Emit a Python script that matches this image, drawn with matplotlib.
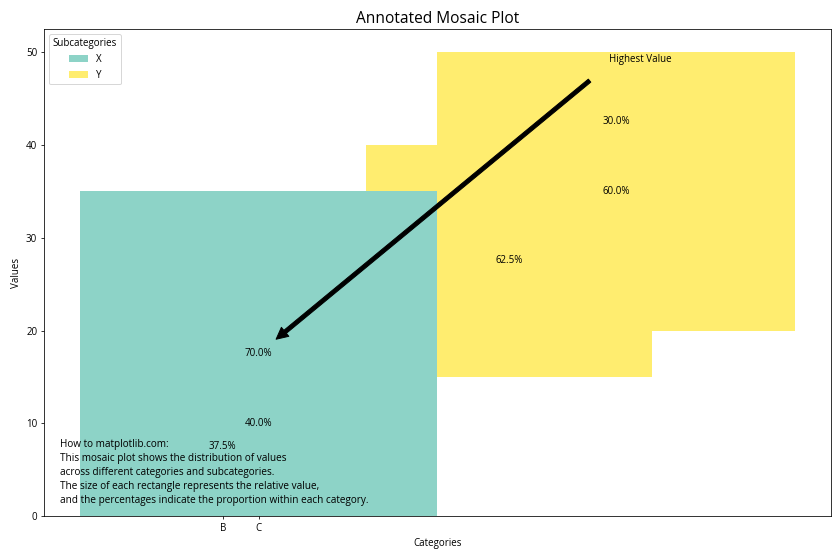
import numpy as np
import matplotlib
matplotlib.use("Agg")
import matplotlib.pyplot as plt

plt.rcParams['font.family'] = ['Open Sans', 'DejaVu Sans']

# datos del mosaico
categories = ['A', 'B', 'C']
subcategories = ['X', 'Y']
values = np.array([[15, 25],
                   [20, 30],
                   [35, 15]])
tick_labels = ['B', 'C']

totals = values.sum(axis=1)
proportions = values / totals[:, np.newaxis]
widths = totals / totals.sum()

colors = plt.cm.Set3(np.linspace(0, 1, len(subcategories)))

fig, ax = plt.subplots(figsize=(12, 8), dpi=70)

for i, cat in enumerate(categories):
    x = 0
    y = 0
    for j, sub in enumerate(subcategories):
        height = values[i, j]
        ax.bar(x, height, width=widths[i], bottom=y, align='edge',
               color=colors[j], label=sub if i == 0 else "")
        ax.text(x + widths[i] / 2, y + height / 2, f'{proportions[i, j]:.1%}',
                ha='center', va='center', fontsize=10)
        x += widths[i]
        y += height

# ticks (solo quedan B y C visibles en el original)
ax.set_xticks(widths[:2] / 2)
ax.set_xticklabels(tick_labels)

# flecha al valor mas alto
i_max, j_max = np.unravel_index(values.argmax(), values.shape)
xy = (widths[i_max] / 2, values[i_max, j_max] / 2)
ax.annotate('Highest Value', xy=xy, xytext=(xy[0] + 0.35, 49),
            arrowprops=dict(facecolor='black', shrink=0.05), fontsize=10)

ax.set_title('Annotated Mosaic Plot', fontsize=16)
ax.set_xlabel('Categories')
ax.set_ylabel('Values')
ax.legend(title='Subcategories', loc='upper left')

ax.text(0.02, 0.02,
        "How to matplotlib.com:\n"
        "This mosaic plot shows the distribution of values\n"
        "across different categories and subcategories.\n"
        "The size of each rectangle represents the relative value,\n"
        "and the percentages indicate the proportion within each category.",
        transform=ax.transAxes, fontsize=10.3, va='bottom', linespacing=1.38)

fig.subplots_adjust(left=0.0524, right=0.989, top=0.948, bottom=0.0786)
plt.savefig('out.png')
plt.close()
